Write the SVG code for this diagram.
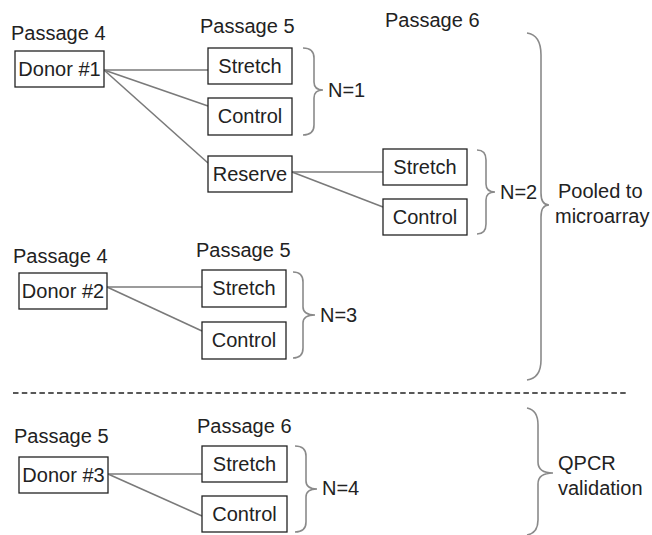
<svg xmlns="http://www.w3.org/2000/svg" width="652" height="535" viewBox="0 0 652 535">
<style>
text{font-family:"Liberation Sans",Arial,sans-serif;font-size:20px;fill:#222}
.box rect{fill:#fff;stroke:#222;stroke-width:1.3}
.box text{text-anchor:middle}
.conn line{stroke:#7a7a7a;stroke-width:1.6}
.brace{fill:none;stroke:#8a8a8a;stroke-width:1.6}
.dash{stroke:#222;stroke-width:1.6;stroke-dasharray:5.5 3.3}
</style>
<rect width="652" height="535" fill="#fff"/>
<g id="labels">
<text x="11" y="40">Passage 4</text>
<text x="200" y="33">Passage 5</text>
<text x="385" y="27">Passage 6</text>
<text x="13" y="263">Passage 4</text>
<text x="196" y="257">Passage 5</text>
<text x="14" y="443">Passage 5</text>
<text x="197" y="433">Passage 6</text>
<text x="328" y="97">N=1</text>
<text x="500" y="199">N=2</text>
<text x="320" y="322">N=3</text>
<text x="322" y="495">N=4</text>
<text x="558" y="198">Pooled to</text>
<text x="555" y="223">microarray</text>
<text x="558" y="470">QPCR</text>
<text x="558" y="495">validation</text>
</g>
<g id="connectors" class="conn">
<line x1="104" y1="70" x2="208" y2="70"/>
<line x1="104" y1="70" x2="208" y2="106"/>
<line x1="104" y1="70" x2="208" y2="163"/>
<line x1="292" y1="172" x2="383" y2="172"/>
<line x1="292" y1="172" x2="383" y2="207"/>
<line x1="107" y1="287" x2="202" y2="287"/>
<line x1="107" y1="287" x2="202" y2="331"/>
<line x1="108" y1="474" x2="202" y2="474"/>
<line x1="108" y1="474" x2="202" y2="516"/>
</g>
<g id="donor1" class="box"><rect x="15" y="51" width="89" height="36"/><text x="59.5" y="76">Donor #1</text></g>
<g id="stretch1" class="box"><rect x="208" y="48" width="84" height="36"/><text x="250" y="73">Stretch</text></g>
<g id="control1" class="box"><rect x="208" y="98" width="84" height="37"/><text x="250" y="123">Control</text></g>
<g id="reserve" class="box"><rect x="208" y="156" width="84" height="36"/><text x="250" y="181">Reserve</text></g>
<g id="stretch2" class="box"><rect x="383" y="149" width="84" height="36"/><text x="425" y="174">Stretch</text></g>
<g id="control2" class="box"><rect x="383" y="199" width="84" height="36"/><text x="425" y="224">Control</text></g>
<g id="donor2" class="box"><rect x="19" y="273" width="88" height="36"/><text x="63" y="298">Donor #2</text></g>
<g id="stretch3" class="box"><rect x="202" y="270" width="84" height="37"/><text x="244" y="295">Stretch</text></g>
<g id="control3" class="box"><rect x="202" y="322" width="84" height="37"/><text x="244" y="347">Control</text></g>
<g id="donor3" class="box"><rect x="19" y="457" width="89" height="36"/><text x="63.5" y="482">Donor #3</text></g>
<g id="stretch4" class="box"><rect x="202" y="446" width="85" height="36"/><text x="244.5" y="471">Stretch</text></g>
<g id="control4" class="box"><rect x="202" y="496" width="85" height="36"/><text x="244.5" y="521">Control</text></g>
<g id="braces">
<path class="brace" d="M303,48 Q314,48 314,58 L314,82 Q314,90 323,90 Q314,90 314,98 L314,125 Q314,135 303,135"/>
<path class="brace" d="M477,150 Q486,150 486,160 L486,184 Q486,192 495,192 Q486,192 486,200 L486,224 Q486,234 477,234"/>
<path class="brace" d="M293,272 Q303,272 303,282 L303,307 Q303,315 315,315 Q303,315 303,323 L303,348 Q303,358 293,358"/>
<path class="brace" d="M295,446 Q306,446 306,456 L306,481 Q306,489 317,489 Q306,489 306,497 L306,522 Q306,532 295,532"/>
<path class="brace" d="M527,33 Q541,35 541,55 L541,193 Q541,205 549,205 Q541,205 541,217 L541,360 Q541,378 527,380"/>
<path class="brace" d="M527,408 Q538,410 538,425 L538,462 Q538,473 553,473 Q538,473 538,484 L538,520 Q538,533 527,535"/>
</g>
<line class="dash" x1="13" y1="393" x2="628" y2="393"/>
</svg>
